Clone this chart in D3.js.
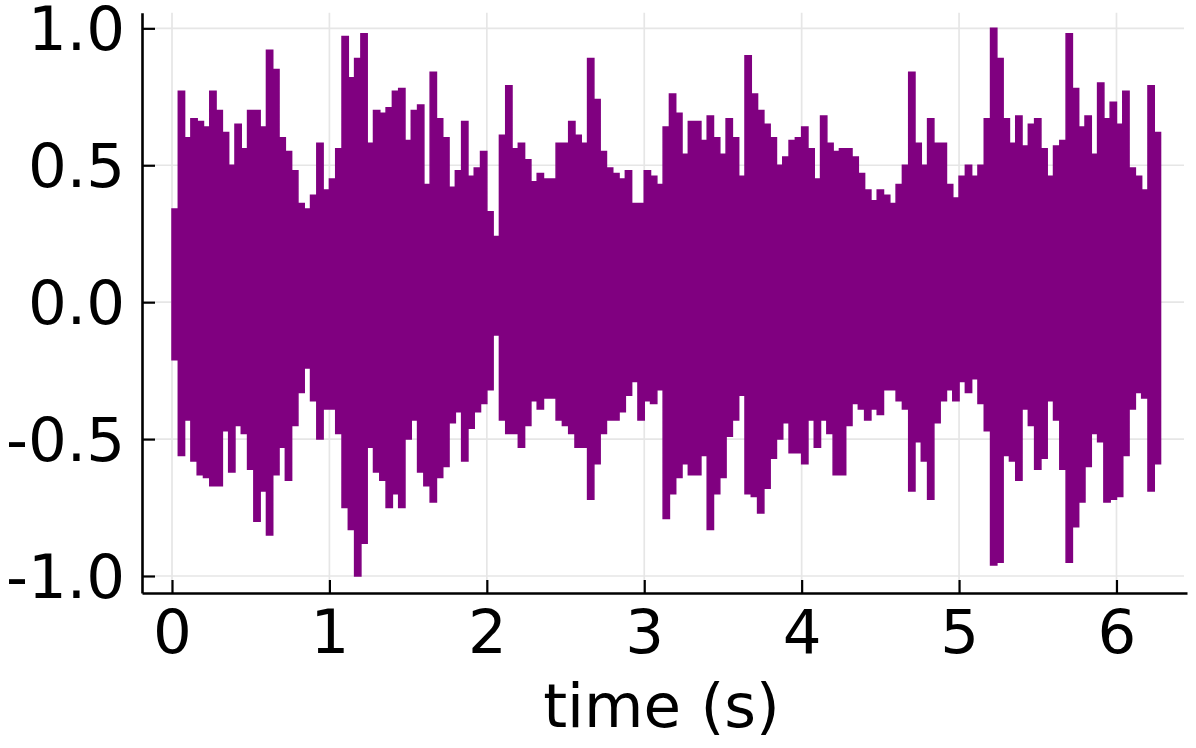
<!DOCTYPE html>
<html><head><meta charset="utf-8">
<script src="https://cdn.jsdelivr.net/npm/d3@7"></script>
<style>
body{margin:0;background:#fff}
text{font-family:"DejaVu Sans",sans-serif;fill:#000}
</style>
</head><body>
<svg id="chart" width="1196" height="748"></svg>
<script>
// ---- data ----
const sampleStep = 0.04; // seconds between envelope samples
const upperEnvelope = [
0.34,0.77,0.60,0.67,0.66,0.64,0.77,0.70,0.62,0.50,
0.65,0.56,0.70,0.70,0.64,0.92,0.85,0.60,0.55,0.48,
0.36,0.34,0.39,0.58,0.41,0.45,0.56,0.97,0.82,0.89,
0.98,0.58,0.70,0.69,0.71,0.77,0.78,0.59,0.70,0.72,
0.43,0.84,0.67,0.60,0.42,0.48,0.66,0.46,0.49,0.55,
0.33,0.24,0.61,0.79,0.56,0.58,0.52,0.44,0.47,0.45,
0.45,0.58,0.58,0.66,0.61,0.58,0.89,0.74,0.55,0.49,
0.47,0.45,0.48,0.36,0.36,0.48,0.46,0.43,0.64,0.76,
0.69,0.54,0.66,0.66,0.59,0.68,0.60,0.54,0.67,0.60,
0.46,0.90,0.76,0.70,0.65,0.60,0.50,0.53,0.59,0.60,
0.64,0.56,0.45,0.68,0.58,0.55,0.56,0.56,0.53,0.47,
0.41,0.37,0.41,0.39,0.36,0.43,0.50,0.84,0.58,0.50,
0.67,0.58,0.58,0.43,0.38,0.46,0.50,0.46,0.50,0.67,
1.00,0.89,0.67,0.58,0.68,0.57,0.65,0.67,0.56,0.46,
0.57,0.59,0.98,0.78,0.64,0.68,0.54,0.80,0.67,0.73,
0.65,0.77,0.49,0.46,0.41,0.79,0.62
];
const lowerEnvelope = [
-0.21,-0.56,-0.43,-0.58,-0.63,-0.64,-0.67,-0.67,-0.47,-0.62,
-0.45,-0.48,-0.61,-0.80,-0.69,-0.85,-0.63,-0.53,-0.65,-0.45,
-0.33,-0.24,-0.36,-0.50,-0.39,-0.39,-0.48,-0.75,-0.83,-1.00,
-0.88,-0.53,-0.62,-0.65,-0.75,-0.70,-0.75,-0.50,-0.43,-0.62,
-0.67,-0.73,-0.64,-0.60,-0.44,-0.40,-0.58,-0.46,-0.40,-0.37,
-0.32,-0.12,-0.43,-0.48,-0.48,-0.53,-0.45,-0.36,-0.39,-0.35,
-0.35,-0.43,-0.45,-0.48,-0.53,-0.53,-0.72,-0.59,-0.48,-0.43,
-0.43,-0.40,-0.34,-0.29,-0.43,-0.36,-0.37,-0.32,-0.79,-0.70,
-0.64,-0.59,-0.63,-0.63,-0.56,-0.83,-0.70,-0.64,-0.49,-0.43,
-0.34,-0.70,-0.71,-0.77,-0.68,-0.57,-0.50,-0.44,-0.55,-0.55,
-0.59,-0.43,-0.53,-0.43,-0.48,-0.63,-0.63,-0.45,-0.37,-0.39,
-0.43,-0.39,-0.41,-0.32,-0.32,-0.36,-0.39,-0.69,-0.51,-0.58,
-0.72,-0.44,-0.36,-0.32,-0.36,-0.29,-0.33,-0.28,-0.37,-0.47,
-0.96,-0.95,-0.56,-0.58,-0.65,-0.39,-0.45,-0.61,-0.57,-0.36,
-0.43,-0.61,-0.95,-0.82,-0.73,-0.60,-0.48,-0.51,-0.73,-0.72,
-0.71,-0.56,-0.39,-0.33,-0.35,-0.69,-0.59
];
const xTicks = [0, 1, 2, 3, 4, 5, 6];
const xTickLabels = ["0", "1", "2", "3", "4", "5", "6"];
const yTicks = [-1.0, -0.5, 0.0, 0.5, 1.0];
const yTickLabels = ["-1.0", "-0.5", "0.0", "0.5", "1.0"];
const xTitle = "time (s)";

// ---- layout ----
const plotLeft = 142, plotRight = 1187, plotTop = 12.7, plotBottom = 593;
const purple = "#800080";

const svg = d3.select("#chart");

const x = d3.scaleLinear().domain([-0.1906, 6.448]).range([plotLeft, plotRight]);
const y = d3.scaleLinear().domain([-1.0621, 1.0571]).range([plotBottom, plotTop]);

// grid
const grid = svg.append("g");
grid.selectAll("line.gx").data(xTicks).join("line")
  .attr("x1", d => x(d)).attr("x2", d => x(d))
  .attr("y1", plotTop).attr("y2", plotBottom)
  .attr("stroke", "#e6e6e6").attr("stroke-width", 1.7);
grid.selectAll("line.gy").data(yTicks).join("line")
  .attr("x1", plotLeft).attr("x2", plotRight - 3)
  .attr("y1", d => y(d)).attr("y2", d => y(d))
  .attr("stroke", "#e6e6e6").attr("stroke-width", 1.7);

// waveform envelope
const pts = upperEnvelope.map((hi, i) => ({ t: i * sampleStep, hi, lo: lowerEnvelope[i] }));
const last = pts[pts.length - 1];
pts.push({ t: pts.length * sampleStep, hi: last.hi, lo: last.lo });

const area = d3.area()
  .x(d => x(d.t))
  .y0(d => y(d.lo))
  .y1(d => y(d.hi))
  .curve(d3.curveStepAfter);

svg.append("path")
  .datum(pts)
  .attr("d", area)
  .attr("fill", purple)
  .attr("stroke", purple)
  .attr("stroke-width", 1.5)
  .attr("stroke-linejoin", "miter");

// axes
const fontSize = 61;
const yAxis = d3.axisLeft(y).tickValues(yTicks)
  .tickFormat((d, i) => yTickLabels[i])
  .tickSize(-13).tickSizeOuter(0).tickPadding(17);
const gy = svg.append("g").attr("transform", `translate(${plotLeft},0)`).call(yAxis);

const xAxis = d3.axisBottom(x).tickValues(xTicks)
  .tickFormat((d, i) => xTickLabels[i])
  .tickSize(-13).tickSizeOuter(0).tickPadding(17);
const gx = svg.append("g").attr("transform", `translate(0,${plotBottom})`).call(xAxis);

[gx, gy].forEach(g => {
  g.select(".domain").attr("stroke", "#000").attr("stroke-width", 2.6);
  g.selectAll(".tick line").attr("stroke", "#000").attr("stroke-width", 2.2);
  g.selectAll(".tick text").attr("font-size", fontSize)
    .attr("font-family", "'DejaVu Sans', sans-serif").attr("fill", "#000");
});
gy.selectAll(".tick text").attr("dy", "0.35em");

svg.append("text")
  .attr("x", (plotLeft + plotRight) / 2 - 3)
  .attr("y", 727)
  .attr("text-anchor", "middle")
  .attr("font-size", fontSize)
  .text(xTitle);
</script>
</body></html>
